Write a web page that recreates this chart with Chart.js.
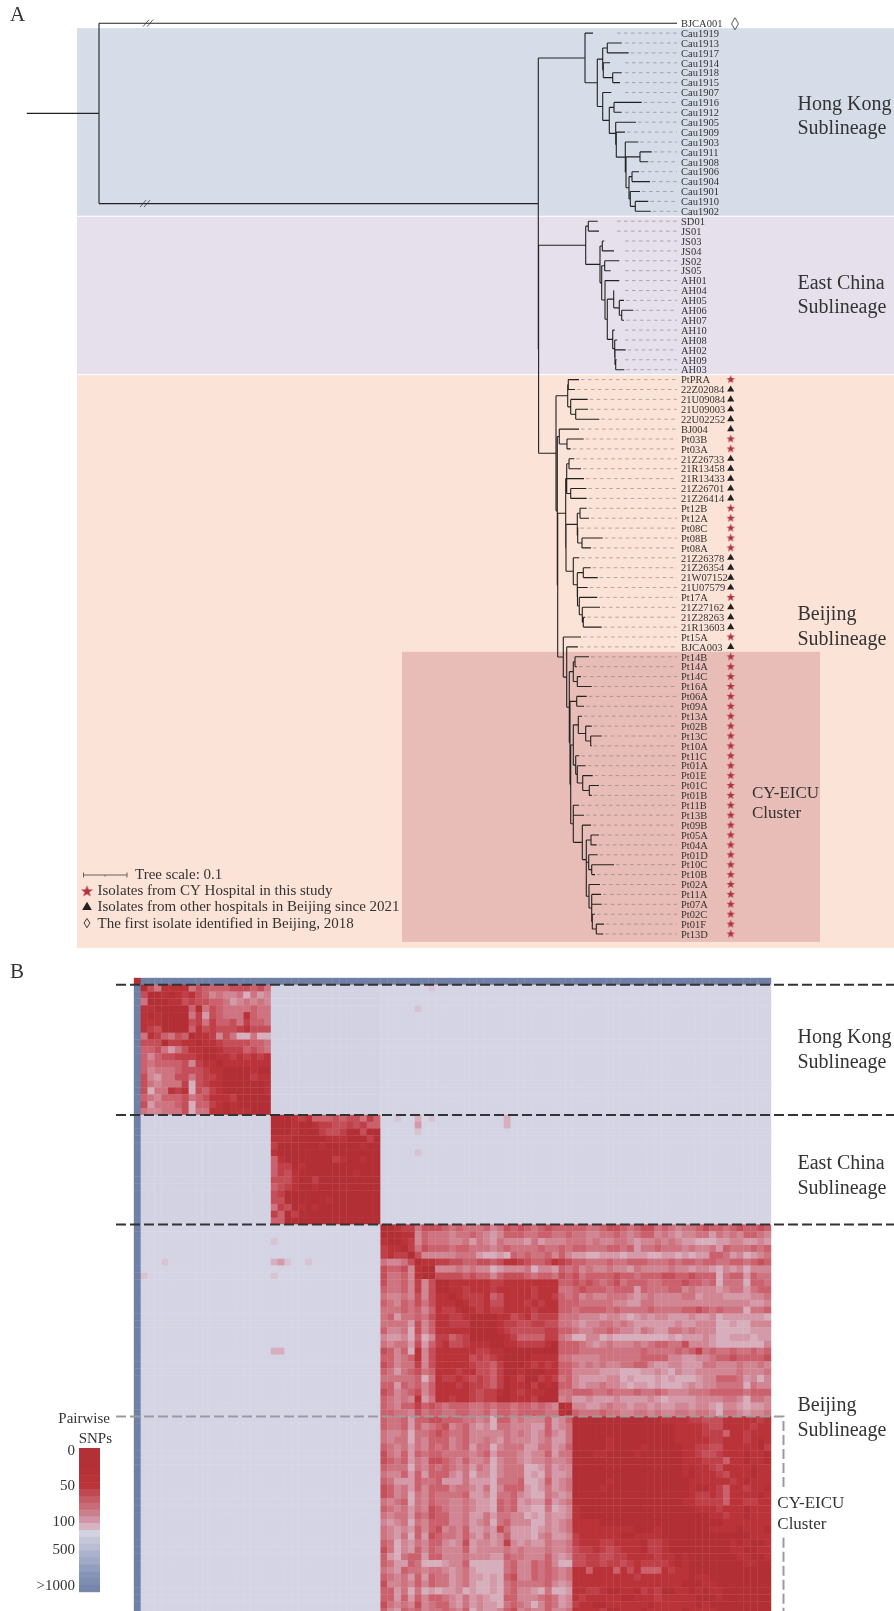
<!DOCTYPE html>
<html lang="en">
<head>
  <meta charset="UTF-8" />
  <title>Phylogeny and pairwise SNPs</title>
  <script src="https://cdn.jsdelivr.net/npm/chart.js"></script>
  <style>
    body { margin: 0; background: #fff; }
    canvas { position: absolute; left: 0; display: block; }
    #treeChart { top: 0; }
    #heatChart { top: 955px; }
  </style>
</head>
<body>
  <canvas id="treeChart" width="894" height="955"></canvas>
  <canvas id="heatChart" width="894" height="656"></canvas>

  <script>
    // ---- tip names, top to bottom ----
    const outgroupTips = ['BJCA001'];
    const hongKongTips = ['Cau1919','Cau1913','Cau1917','Cau1914','Cau1918','Cau1915','Cau1907','Cau1916','Cau1912','Cau1905','Cau1909','Cau1903','Cau1911','Cau1908','Cau1906','Cau1904','Cau1901','Cau1910','Cau1902'];
    const eastChinaTips = ['SD01','JS01','JS03','JS04','JS02','JS05','AH01','AH04','AH05','AH06','AH07','AH10','AH08','AH02','AH09','AH03'];
    const beijingTips = ['PtPRA','22Z02084','21U09084','21U09003','22U02252','BJ004','Pt03B','Pt03A','21Z26733','21R13458','21R13433','21Z26701','21Z26414','Pt12B','Pt12A','Pt08C','Pt08B','Pt08A','21Z26378','21Z26354','21W07152','21U07579','Pt17A','21Z27162','21Z28263','21R13603','Pt15A','BJCA003'];
    const eicuTips = ['Pt14B','Pt14A','Pt14C','Pt16A','Pt06A','Pt09A','Pt13A','Pt02B','Pt13C','Pt10A','Pt11C','Pt01A','Pt01E','Pt01C','Pt01B','Pt11B','Pt13B','Pt09B','Pt05A','Pt04A','Pt01D','Pt10C','Pt10B','Pt02A','Pt11A','Pt07A','Pt02C','Pt01F','Pt13D'];

    // ---- tree: [node depth, child, child...], a plain number is a tip depth ----
    const hongKongClade = [585, 593,
      [597.3,
        [602.7, [607.3, 621.7, 628.7], [603.3, 610, [612.7, 621.7, 620]]],
        [602.7, 611.3,
          [609.3,
            [614, 641.7, 621.7],
            [615.7, 636,
              [616.3, 625,
                [625.3, 638.3,
                  [626,
                    [640, 651.7, 648.3],
                    [629, [632, 639, 650], [630.3, 640, [635.3, 648.3, 650.7]]]
                  ]
                ]
              ]
            ]
          ]
        ]
      ]
    ];
    const eastChinaClade = [585.7, [588.3, 597.7, 599],
      [600,
        [602.3, 604.3, 614],
        [601.7,
          [604.7, 619.3, 610.7],
          [605, 619.3,
            [607.3,
              [613.7, 614, [619.3, 624, [621.7, 633.3, 624]]],
              [612.7, 614.7, [614.7, 617.3, [615, 625.7, [615.7, 616.7, 624.3]]]]
            ]
          ]
        ]
      ]
    ];
    const eicuClade = [569.3,
      [573.3, [575, 589, 577], [577.3, 581, 591.7]],
      [570,
        [576.7, 586.7, 584],
        [570.7,
          [573.3,
            [578.3, 582, [585.7, 591.7, [590.7, 601.7, 591.7]]],
            [575.7, 579.3, [577.3, 585.7, [582.7, 592.7, [589.3, 599, 591.7]]]]
          ],
          [573.3, 579, 584,
            [582.3, 591,
              [586.3,
                [591, 599, 596.7],
                [586.3,
                  [588.7, 597.7, [591.7, 614, 595]],
                  [589, 600, [591.7, 601, 601.7, [592.3, 595, [596.3, 604, 603.3]]]]
                ]
              ]
            ]
          ]
        ]
      ]
    ];
    const beijingClade = [556,
      [567.7, [568.3, 579, 575], [570.7, 587.7, [575.7, 588, 599.3]]],
      [557.3,
        [559.3, 579, [567, 583.7, 570.7]],
        [557.7,
          [565.7,
            [566.7, [569, 574.3, 581], 584, [570.7, 586.3, 586.7]],
            [566,
              [577.3, [580, 586.7, 589], [577.7, 578.3, [582, 602.7, 591]]],
              [573.3, 579.3,
                [577.3,
                  [583.3, 590.7, 597.7],
                  [577.5, 587.7, [579.3, 597.3, [582.3, 600, [583.3, 585.3, 601.7]]]]
                ]
              ]
            ]
          ],
          [563.3, 581, [566.7, 578, eicuClade]]
        ]
      ]
    ];
    const rootClade = [99, 677, [538.3, hongKongClade, [538.6, eastChinaClade, beijingClade]]];
    const rootStubStart = 26.8;

    // ---- pairwise SNP levels, upper triangle of each lineage block ----
    // 0 = nearly identical ... 9 = about 100 SNPs, a/b = lavender, x = >1000
    const hongKongLevels = [
      '0351111534 444333 435','001012134 656658576','00113233 445765656','0000405345555455','000527345551455',
      '00325244352445','0413233321333','011263588588','01123333445','0012224345','011212121','01111111','0000100',
      '000211','00001','0001','000','00','0'
    ];
    const eastChinaLevels = [
      '0001214443433524','001001223323244','01000233200300','0000011100020','000100000100','00000000000',
      '0002100100','000000000','00001000','0000000','000000','00000','0000','000','00','0'
    ];
    const beijingLevels = [
      '0012253334 5455546534 34543444 | 44554 33454 33545 65543 44543 4434',
      '001164555 6554567644 45544554 | 55665 54565 44656 76655 75656 4456',
      '012645556 657567566 67576665 | 55656 65567 66565 67788 87766 7767',
      '0253444544 5556545555 45545 | 44555 44547 55455 56566 57455 5454',
      '036666655 578878454 554646 | 77887 77877 78877 87877 44576 8765',
      '01122334433431123443123 | 44555 45544 45554 54454 45544 5434',
      '0066656566 8766658667 45 | 46566 56675 66665 66766 78676 8666',
      '033334344643334544534 | 35444 43445 44433 44344 48544 7455',
      '00111111221111111144 | 34345 43544 45544 43445 48555 8445',
      '0112111211111211155 | 43444 54447 45554 46566 67655 7544',
      '012221431111211245 | 46566 55567 65666 65576 66777 7665',
      '01221331112121144 | 45555 56677 55666 66666 66666 6776',
      '0121221111211144 | 54444 54555 54555 54434 54555 8554',
      '000011321322255 | 56667 66787 67667 77677 68777 7778',
      '00012233223355 | 67665 56567 77777 67766 68878 8666',
      '0012333332244 | 56655 45667 56775 56566 68888 8777',
      '001244442256 | 88668 78888 88887 87776 78877 7877',
      '01122221044 | 45676 56665 65445 53666 78888 8886',
      '0000000044 | 45555 55555 45555 45425 45545 5454',
      '000111155 | 66665 55555 44446 67766 54434 4443',
      '01212144 | 56565 66554 46776 67775 56665 6656',
      '0001144 | 66667 77888 77678 67766 66665 6665',
      '021254 | 67777 66878 88787 88876 64445 7686',
      '01044 | 67665 66787 78788 87676 65555 8566',
      '0055 | 44455 45554 55456 66555 44444 5444',
      '065 | 77677 76777 76787 77766 66556 8556',
      '01 | 66776 56676 67677 66766 78667 8776',
      '0 | 45554 55665 56566 55655 68556 7665',
      '00000 00000 00011 11223 33111 1121',
      '00000 00000 00001 11123 31111 211',
      '00000 00000 00011 11222 41121 11',
      '00100 00000 00111 11221 11210 1',
      '01000 01000 00112 23311 11102',
      '00001 00000 01123 32111 0110',
      '00000 00000 11122 24110 110',
      '00000 00001 01123 11110 11',
      '00000 00010 11123 11101 1',
      '00000 00011 11112 10111',
      '00000 00100 12411 2110',
      '00000 01221 24111 101',
      '00001 12222 41122 11',
      '00000 11121 11011 1',
      '00000 01121 10111',
      '00000 00111 1111',
      '00001 11101 110',
      '00000 00001 11',
      '00000 10100 1',
      '00001 10011',
      '00001 1001',
      '00001 100',
      '00000 00',
      '000000','00000','0000','000','00','0'
    ];
    // cells between lineages that stand out: [row, column, level]
    const crossLineageCells = [[4,41,'9'],[20,41,'8'],[21,41,'7'],[22,41,'9'],[25,41,'9'],[21,54,'8'],[20,54,'8'],[20,38,'9'],[20,43,'9'],[1,43,'9']];

    const snpColours = { '0':'#b22f35','1':'#b93338','2':'#bf4048','3':'#c54f59','4':'#ca616d','5':'#ce7380','6':'#d18693','7':'#d49aa9','8':'#d6aebc','9':'#d8c3d1', a:'#d5d4e4', b:'#d2d2e2', x:'#6f7fa6' };
    const legendColours = ['#b13136','#b23136','#b33136','#b43237','#b73338','#ba3439','#c04852','#c45a65','#c86c78','#cb7f8d','#d096a5','#d6b3c0','#d3d2e1','#c5c6da','#b9bed4','#aab2cc','#a0a9c6','#929ebe','#8794b6','#7f8db1','#7685aa'];
    const legendTicks = ['0','50','100','500','>1000'];
    const legendTickY = [495.7, 531, 567, 595, 631];

    const sublineageLabels = [['Hong Kong','Sublineage'],['East China','Sublineage'],['Beijing','Sublineage']];

    const SERIF = '"Liberation Serif", serif';
    const TEXT = '#333';

    // ---- tree layout from the clades ----
    const allTips = [...outgroupTips, ...hongKongTips, ...eastChinaTips, ...beijingTips, ...eicuTips];
    const tipDepths = [];
    const branchPoints = [];
    let nextRow = 0;
    let mainNodeRow = 0;
    function addBranch(x0, y0, x1, y1) {
      branchPoints.push({x:x0,y:y0},{x:x1,y:y1},{x:NaN,y:NaN});
    }
    function placeNode(node, parentDepth) {
      if (typeof node === 'number') {
        const row = nextRow++;
        tipDepths.push(node);
        addBranch(parentDepth, row, node, row);
        return row;
      }
      const depth = node[0];
      const rows = node.slice(1).map(c => placeNode(c, depth));
      const row = (rows[0] + rows[rows.length - 1]) / 2;
      addBranch(depth, rows[0], depth, rows[rows.length - 1]);
      addBranch(parentDepth, row, depth, row);
      // the branch up to the three sublineages carries the second break mark
      if (node === rootClade[2]) mainNodeRow = row;
      return row;
    }
    placeNode(rootClade, rootStubStart);

    // the dashes of the short tips do not start at the tip
    const farLeaders = ['Cau1919','SD01','JS01'];
    const leaderPoints = [];
    allTips.forEach((name, row) => {
      if (row === 0) return;
      let from = tipDepths[row] + 2;
      if (row <= hongKongTips.length + eastChinaTips.length) from = Math.max(from, 625);
      if (farLeaders.includes(name)) from = 617;
      leaderPoints.push({x:from,y:row},{x:677,y:row},{x:NaN,y:NaN});
    });

    const starPoints = [], trianglePoints = [];
    [...beijingTips, ...eicuTips].forEach((name, i) => {
      const row = 1 + hongKongTips.length + eastChinaTips.length + i;
      (name.startsWith('Pt') ? starPoints : trianglePoints).push({x:730.7,y:row});
    });

    function starImage(r) {
      const s = Math.ceil(r * 2 + 2), c = document.createElement('canvas');
      c.width = c.height = s;
      const g = c.getContext('2d');
      g.fillStyle = '#b0323f';
      g.beginPath();
      for (let i = 0; i < 10; i++) {
        const a = -Math.PI / 2 + i * Math.PI / 5, q = i % 2 ? r * 0.42 : r;
        g.lineTo(s / 2 + q * Math.cos(a), s / 2 + q * Math.sin(a));
      }
      g.fill();
      return c;
    }
    function lozengeImage() {
      const c = document.createElement('canvas');
      c.width = 10; c.height = 14;
      const g = c.getContext('2d');
      g.strokeStyle = '#444';
      g.lineWidth = 0.9;
      g.beginPath();
      g.moveTo(5, 1); g.lineTo(8.5, 7); g.lineTo(5, 13); g.lineTo(1.5, 7); g.closePath();
      g.stroke();
      return c;
    }

    function text(ctx, str, x, y, font, align) {
      ctx.font = font;
      ctx.textAlign = align || 'left';
      ctx.textBaseline = 'middle';
      ctx.fillStyle = TEXT;
      ctx.fillText(str, x, y);
    }

    const ROW_STEP = 9.9, ROW_TOP = 23.2, TREE_H = 955;

    const treePlugin = {
      id: 'treeDecor',
      beforeDatasetsDraw(chart) {
        const { ctx, scales: { x, y } } = chart;
        const band = (x0, x1, r0, r1, colour) => {
          ctx.fillStyle = colour;
          ctx.fillRect(x.getPixelForValue(x0), y.getPixelForValue(r0), x.getPixelForValue(x1) - x.getPixelForValue(x0), y.getPixelForValue(r1) - y.getPixelForValue(r0));
        };
        band(77, 894, 0.5, 19.45, '#d6dde8');
        band(77, 894, 19.55, 35.45, '#e6e0ec');
        band(77, 894, 35.55, 93.4, '#fbe3d7');
        band(402, 820, 63.5, 92.8, '#e9bdb7');
      },
      afterDatasetsDraw(chart) {
        const { ctx, scales: { x, y } } = chart;
        allTips.forEach((name, row) => {
          text(ctx, name, x.getPixelForValue(681), y.getPixelForValue(row) + 1, '10.5px ' + SERIF);
        });
        // break marks on the two long branches
        ctx.strokeStyle = '#333';
        ctx.lineWidth = 0.8;
        [[148, 0], [145, mainNodeRow]].forEach(([d, row]) => {
          const px = x.getPixelForValue(d), py = y.getPixelForValue(row);
          [-2, 2].forEach(o => {
            ctx.beginPath();
            ctx.moveTo(px + o - 3, py + 3.5);
            ctx.lineTo(px + o + 3, py - 3.5);
            ctx.stroke();
          });
        });
        // scale bar: 44 tree units stand for 0.1
        const sy = 875;
        ctx.strokeStyle = '#555';
        ctx.lineWidth = 0.9;
        ctx.beginPath();
        ctx.moveTo(83, sy); ctx.lineTo(127, sy);
        ctx.moveTo(83.5, sy - 2.5); ctx.lineTo(83.5, sy + 2.5);
        ctx.moveTo(127, sy - 2.5); ctx.lineTo(127, sy + 2.5);
        ctx.moveTo(105, sy); ctx.lineTo(105, sy + 1.5);
        ctx.stroke();
        const legendFont = '15px ' + SERIF;
        text(ctx, 'Tree scale: 0.1', 135, 875, legendFont);
        text(ctx, 'Isolates from CY Hospital in this study', 97.5, 891.5, legendFont);
        text(ctx, 'Isolates from other hospitals in Beijing since 2021', 97.5, 907.5, legendFont);
        text(ctx, '\u25CA', 87, 924, '14px ' + SERIF, 'center');
        text(ctx, 'The first isolate identified in Beijing, 2018', 97.5, 924, legendFont);

        text(ctx, 'A', 10, 15, '21px ' + SERIF);
        const big = '20px ' + SERIF;
        [[105, 129], [284, 308], [614.5, 640]].forEach((ys, i) => {
          text(ctx, sublineageLabels[i][0], 797.5, ys[0], big);
          text(ctx, sublineageLabels[i][1], 797.5, ys[1], big);
        });
        text(ctx, 'CY-EICU', 752, 793.5, '17px ' + SERIF);
        text(ctx, 'Cluster', 752, 813.5, '17px ' + SERIF);
      }
    };

    new Chart(document.getElementById('treeChart'), {
      type: 'scatter',
      data: { datasets: [
        { data: [{x:735,y:0.05}], pointStyle: lozengeImage(), pointRadius: 6, showLine: false },
        { data: starPoints, pointStyle: starImage(4.4), pointRadius: 5, showLine: false },
        { data: trianglePoints, pointStyle: 'triangle', pointRadius: 4.1, pointBackgroundColor: '#222', pointBorderWidth: 0, showLine: false },
        { data: [{x:87,y:(891.5-ROW_TOP)/ROW_STEP}], pointStyle: starImage(6.2), pointRadius: 7, showLine: false },
        { data: [{x:87,y:(907.3-ROW_TOP)/ROW_STEP}], pointStyle: 'triangle', pointRadius: 5.6, pointBackgroundColor: '#222', pointBorderWidth: 0, showLine: false },
        { data: branchPoints, showLine: true, borderColor: '#222', borderWidth: 1.1, pointRadius: 0, spanGaps: false },
        { data: leaderPoints, showLine: true, borderColor: 'rgba(110,110,115,0.5)', borderWidth: 1, borderDash: [3.6, 3.4], pointRadius: 0, spanGaps: false }
      ] },
      options: {
        responsive: false,
        animation: false,
        events: [],
        layout: { padding: 0, autoPadding: false },
        plugins: { legend: { display: false }, tooltip: { enabled: false } },
        scales: {
          x: { type: 'linear', display: false, min: 0, max: 894 },
          y: { type: 'linear', display: false, reverse: true, min: -ROW_TOP / ROW_STEP, max: (TREE_H - ROW_TOP) / ROW_STEP }
        }
      },
      plugins: [treePlugin]
    });

    // ---- heat map ----
    const N = allTips.length;
    const levels = [];
    for (let r = 0; r < N; r++) levels.push(new Array(N).fill('a'));
    const hkStart = 1, ecStart = hkStart + hongKongTips.length, bjStart = ecStart + eastChinaTips.length;
    for (let r = hkStart; r < ecStart; r++) for (let c = ecStart; c < bjStart; c++) { levels[r][c] = 'b'; levels[c][r] = 'b'; }
    for (let i = 0; i < N; i++) { levels[0][i] = 'x'; levels[i][0] = 'x'; }
    levels[0][0] = '0';
    function fillBlock(rows, start) {
      const n = rows.length;
      rows.forEach((s, i) => {
        const clean = s.replace(/[\s|]/g, '');
        for (let j = i; j < n; j++) {
          const v = clean[j - i] || '0';
          levels[start + i][start + j] = v;
          levels[start + j][start + i] = v;
        }
      });
    }
    fillBlock(hongKongLevels, hkStart);
    fillBlock(eastChinaLevels, ecStart);
    fillBlock(beijingLevels, bjStart);
    crossLineageCells.forEach(([r, c, v]) => { levels[r][c] = v; levels[c][r] = v; });

    const cells = [], cellColours = [];
    for (let r = 0; r < N; r++) for (let c = 0; c < N; c++) {
      cells.push({x:c, y:r});
      cellColours.push(snpColours[levels[r][c]]);
    }

    const CELL = 6.85, HEAT_LEFT = 134, HEAT_TOP = 23, HEAT_H = 656;
    const colMin = -HEAT_LEFT / CELL - 0.5, colMax = colMin + 894 / CELL;
    const rowMin = -HEAT_TOP / CELL - 0.5, rowMax = rowMin + HEAT_H / CELL;
    const lineStart = (116 - HEAT_LEFT) / CELL - 0.5;
    const bracketCol = (783.5 - HEAT_LEFT) / CELL - 0.5;
    const lineageEdges = [0.5, 19.5, 35.5];
    const clusterEdge = 63.5;
    // the bracket leaves a gap for the cluster label
    const bracketGap = [74.2, 81.2];

    const separatorPoints = [];
    lineageEdges.forEach(e => separatorPoints.push({x:lineStart,y:e},{x:colMax,y:e},{x:NaN,y:NaN}));
    const bracketPoints = [
      {x:lineStart,y:clusterEdge},{x:bracketCol,y:clusterEdge},{x:bracketCol,y:bracketGap[0]},{x:NaN,y:NaN},
      {x:bracketCol,y:bracketGap[1]},{x:bracketCol,y:rowMax}
    ];

    const heatPlugin = {
      id: 'heatDecor',
      afterDatasetsDraw(chart) {
        const { ctx } = chart;
        text(ctx, 'B', 10, 17, '21px ' + SERIF);
        const big = '20px ' + SERIF;
        [[83, 108], [209, 234], [451, 476]].forEach((ys, i) => {
          text(ctx, sublineageLabels[i][0], 797.5, ys[0], big);
          text(ctx, sublineageLabels[i][1], 797.5, ys[1], big);
        });
        text(ctx, 'CY-EICU', 777.3, 549, '17px ' + SERIF);
        text(ctx, 'Cluster', 777.3, 570, '17px ' + SERIF);
        text(ctx, 'Pairwise', 110, 464, '15px ' + SERIF, 'right');
        text(ctx, 'SNPs', 112, 484, '15px ' + SERIF, 'right');
        const barTop = 493, step = (636.7 - 493) / legendColours.length;
        legendColours.forEach((col, i) => {
          ctx.fillStyle = col;
          ctx.fillRect(79, barTop + i * step, 21, step + 0.5);
        });
        legendTicks.forEach((t, i) => text(ctx, t, 75, legendTickY[i], '15px ' + SERIF, 'right'));
      }
    };

    new Chart(document.getElementById('heatChart'), {
      type: 'scatter',
      data: { datasets: [
        { data: separatorPoints, showLine: true, borderColor: '#333', borderWidth: 2, borderDash: [10, 4], pointRadius: 0, spanGaps: false },
        { data: bracketPoints, showLine: true, borderColor: '#9b9b9b', borderWidth: 2, borderDash: [10, 4], pointRadius: 0, spanGaps: false },
        { data: cells, showLine: false, pointStyle: 'rect', pointRadius: 5.1, pointBorderWidth: 0, pointBackgroundColor: cellColours }
      ] },
      options: {
        responsive: false,
        animation: false,
        events: [],
        layout: { padding: 0, autoPadding: false },
        plugins: { legend: { display: false }, tooltip: { enabled: false } },
        scales: {
          x: { type: 'linear', display: false, min: colMin, max: colMax },
          y: { type: 'linear', display: false, reverse: true, min: rowMin, max: rowMax }
        }
      },
      plugins: [heatPlugin]
    });
  </script>
</body>
</html>
